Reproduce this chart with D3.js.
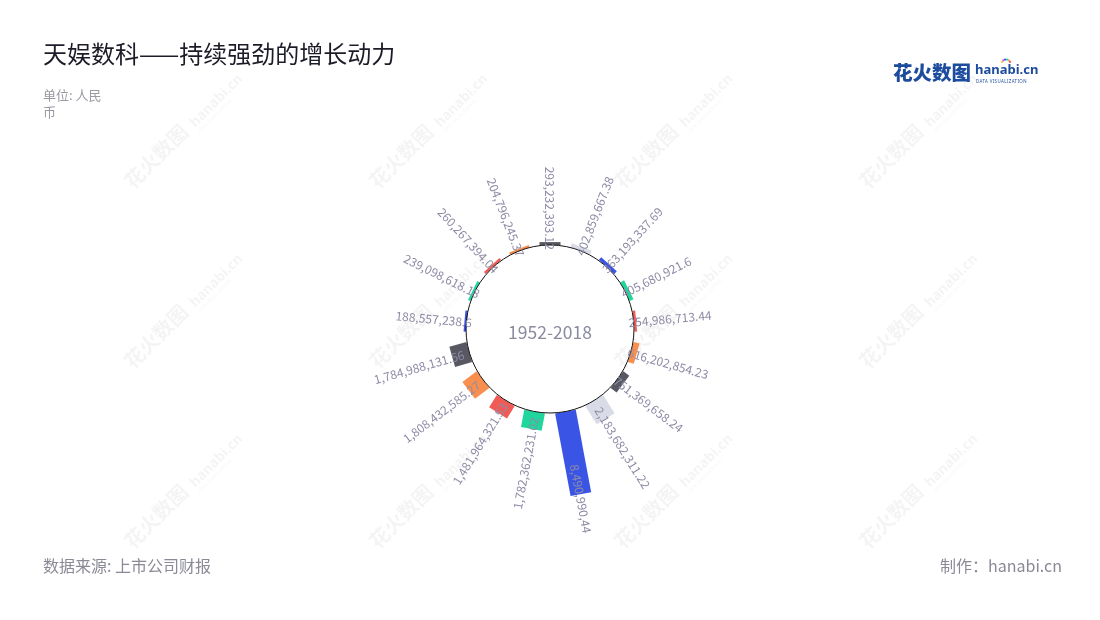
<!DOCTYPE html>
<html><head><meta charset="utf-8">
<script src="https://cdn.jsdelivr.net/npm/d3@7"></script>
<style>body{margin:0;background:#fff} svg{display:block}</style>
</head><body><svg id="chart" width="1100" height="620"></svg>
<script>
// ---- data ----
const categories = ["c1","c2","c3","c4","c5","c6","c7","c8","c9","c10","c11","c12","c13","c14","c15","c16","c17"];
const values = [293232393.12, 402859667.38, 363193337.69, 405680921.6, 254986713.44, 616202854.23, 751369658.24,
  2183682311.22, 8490990440, 1782362231.02, 1481964321.53, 1808432585.27, 1784988131.56,
  188557238.6, 239098618.18, 260267394.04, 204796245.37];
const valueLabels = ["293,232,393.12","402,859,667.38","363,193,337.69","405,680,921.6","254,986,713.44","616,202,854.23","751,369,658.24",
  "2,183,682,311.22","8,490,990,44","1,782,362,231.02","1,481,964,321.53","1,808,432,585.27","1,784,988,131.56",
  "188,557,238.6","239,098,618.18","260,267,394.04","204,796,245.37"];
const barColors = ["#585862","#d9dce6","#3a55e6","#1fd69c","#f25a55","#f98f4e","#585862",
  "#d9dce6","#3a55e6","#1fd69c","#f25a55","#f98f4e","#585862",
  "#3a55e6","#1fd69c","#f25a55","#f98f4e"];
const centerLabel = "1952-2018";

// ---- layout ----
const svg = d3.select("#chart");
const cx = 550, cy = 329, r0 = 84, barW = 21;

// watermarks
const wm = svg.append("g").attr("fill", "#000").attr("opacity", 0.045);
for (let j = 0; j < 3; j++) {
  for (let i = 0; i < 4; i++) {
    const g = wm.append("g").attr("transform", `translate(${133 + 245 * i},${190 + 180 * j}) rotate(-45)`);
    g.append("text").attr("font-family", "Noto Sans CJK SC").attr("font-weight", 700).attr("font-size", 20).text("花火数图");
    g.append("text").attr("x", 88).attr("font-family", "Noto Sans").attr("font-weight", 700).attr("font-size", 14).text("hanabi.cn");
    g.append("text").attr("x", 88).attr("y", 7).attr("font-family", "Noto Sans").attr("font-size", 4.5).text("DATA VISUALIZATION");
  }
}

// title etc
svg.append("text").attr("x", 43).attr("y", 63).attr("font-family", "Noto Sans CJK SC").attr("font-size", 24)
  .attr("fill", "#1c1c28").text("天娱数科——持续强劲的增长动力");
const sub = svg.append("text").attr("font-family", "Noto Sans CJK SC").attr("font-size", 13).attr("fill", "#9a9aa2");
sub.append("tspan").attr("x", 43).attr("y", 100).text("单位: 人民");
sub.append("tspan").attr("x", 43).attr("y", 117).text("币");
svg.append("text").attr("x", 43).attr("y", 572).attr("font-family", "Noto Sans CJK SC").attr("font-size", 16)
  .attr("fill", "#8a8a96").text("数据来源: 上市公司财报");
svg.append("text").attr("x", 1062).attr("y", 572).attr("text-anchor", "end").attr("font-family", "Noto Sans CJK SC").attr("font-size", 16)
  .attr("fill", "#8a8a96").text("制作：hanabi.cn");

// logo
const logo = svg.append("g");
logo.append("text").attr("x", 893).attr("y", 80).attr("font-family", "Noto Sans CJK SC").attr("font-weight", 900)
  .attr("font-size", 19.5).attr("fill", "#1d4c9e").text("花火数图");
logo.append("text").attr("x", 975).attr("y", 74).attr("font-family", "Noto Sans").attr("font-weight", 700)
  .attr("font-size", 13).attr("fill", "#1d4c9e").text("hanabi.cn");
logo.append("text").attr("x", 976).attr("y", 83).attr("font-family", "Noto Sans").attr("font-size", 4.4)
  .attr("fill", "#1d4c9e").attr("letter-spacing", 0.4).text("DATA VISUALIZATION");
const dotCols = ["#f25a55","#f98f4e","#1fd69c","#3a55e6","#e04fd6","#f7c843"];
dotCols.forEach((c, k) => {
  const a = -Math.PI * (0.15 + k * 0.14);
  logo.append("circle").attr("cx", 1006 + 4.5 * Math.cos(a)).attr("cy", 64 + 4.5 * Math.sin(a)).attr("r", 1.1).attr("fill", c);
});

// scales
const angle = d3.scalePoint().domain(categories).range([0, 2 * Math.PI * (categories.length - 1) / categories.length]);
const radius = d3.scaleLinear().domain([0, d3.max(values)]).range([r0, 2 * r0]);

const chart = svg.append("g").attr("transform", `translate(${cx},${cy})`);
const data = categories.map((c, i) => ({ c, v: values[i], label: valueLabels[i], color: barColors[i] }));

// bars
chart.selectAll("rect.bar").data(data).join("rect").attr("class", "bar")
  .attr("transform", d => `rotate(${angle(d.c) * 180 / Math.PI})`)
  .attr("x", -barW / 2).attr("width", barW)
  .attr("y", d => -radius(d.v)).attr("height", d => Math.max(2.5, radius(d.v) - r0))
  .attr("fill", d => d.color);

// circle
chart.append("circle").attr("r", r0).attr("fill", "none").attr("stroke", "#111").attr("stroke-width", 1);

// labels
chart.selectAll("g.lab").data(data).join("g").attr("class", "lab")
  .attr("transform", d => {
    const len = radius(d.v) - r0;
    const rA = r0 + 0.72 * len - 7;
    return `rotate(${angle(d.c) * 180 / Math.PI}) translate(0,${-rA})`;
  })
  .append("text")
  .attr("transform", d => { const a = angle(d.c); return (a > 0 && a < Math.PI) ? "rotate(-90)" : "rotate(90)"; })
  .attr("text-anchor", d => { const a = angle(d.c); return (a > 0 && a < Math.PI) ? "start" : "end"; })
  .attr("dominant-baseline", "central")
  .attr("font-family", "Noto Sans CJK SC").attr("font-size", 12).attr("fill", "#8d8ca6")
  .text(d => d.label);

// center text
chart.append("text").attr("y", 10).attr("text-anchor", "middle").attr("font-family", "Noto Sans CJK SC")
  .attr("font-size", 17.5).attr("fill", "#8a8aa0").text(centerLabel);
</script></body></html>
